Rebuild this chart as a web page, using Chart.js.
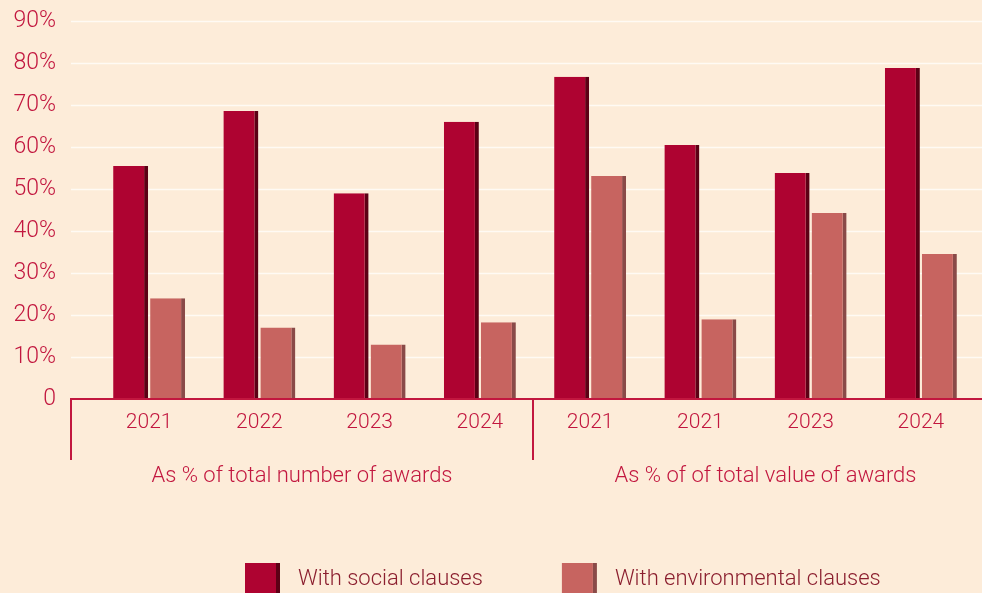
<!DOCTYPE html>
<html>
<head>
<meta charset="utf-8">
<title>Awards with social and environmental clauses</title>
<script src="https://cdn.jsdelivr.net/npm/chart.js@4.4.0/dist/chart.umd.min.js"></script>
<style>
  html, body { margin: 0; padding: 0; background: #fdecd9; overflow: hidden; }
  #wrap { width: 982px; height: 600px; }
</style>
</head>
<body>
<div id="wrap"><canvas id="awardsChart" width="982" height="600"></canvas></div>
<script>
// categories and values
const years = ['2021', '2022', '2023', '2024', '2021', '2021', '2023', '2024'];
const groupLabels = ['As % of total number of awards', 'As % of of total value of awards'];
const seriesNames = ['With social clauses', 'With environmental clauses'];
const socialClauses = [55.5, 68.6, 49, 66, 76.7, 60.5, 53.8, 78.8];
const environmentalClauses = [24, 17, 13, 18.3, 53.1, 19, 44.3, 34.5];
const yTicks = [0, 10, 20, 30, 40, 50, 60, 70, 80, 90];

const red = '#ae0331';
const redEdge = '#5c0015';
const rose = '#c76460';
const roseEdge = '#8a4a48';
const crimson = '#c2173f';
const FONT = 'Roboto';

// white grid lines run past the plot area, from the axis stub to the right edge
const gridLines = {
    id: 'gridLines',
    beforeDatasetsDraw(chart) {
        const ctx = chart.ctx;
        const y = chart.scales.y;
        ctx.save();
        ctx.strokeStyle = '#fffaf4';
        ctx.lineWidth = 1.6;
        yTicks.forEach(function (v) {
            if (v === 0) return;
            const py = Math.round(y.getPixelForValue(v)) + 0.5;
            ctx.beginPath();
            ctx.moveTo(71, py);
            ctx.lineTo(chart.width, py);
            ctx.stroke();
        });
        ctx.restore();
    }
};

// baseline, group separators, group titles and the legend
const decorations = {
    id: 'decorations',
    afterDraw(chart) {
        const ctx = chart.ctx;
        const x = chart.scales.x;
        const y0 = chart.scales.y.getPixelForValue(0);
        const sep = (x.getPixelForValue(3) + x.getPixelForValue(4)) / 2 - 2;
        ctx.save();
        ctx.strokeStyle = crimson;
        ctx.lineWidth = 2;
        ctx.beginPath();
        ctx.moveTo(71, y0);
        ctx.lineTo(chart.width, y0);
        ctx.moveTo(71, y0 - 1);
        ctx.lineTo(71, y0 + 61);
        ctx.moveTo(sep, y0 - 1);
        ctx.lineTo(sep, y0 + 61);
        ctx.stroke();

        ctx.fillStyle = crimson;
        ctx.font = '300 22px ' + FONT;
        ctx.textAlign = 'center';
        ctx.textBaseline = 'middle';
        ctx.fillText(groupLabels[0], (71 + sep) / 2, y0 + 77);
        ctx.fillText(groupLabels[1], (sep + chart.width) / 2 + 8, y0 + 77);

        // legend
        const fills = [[red, redEdge], [rose, roseEdge]];
        let lx = 245;
        const top = 563;
        ctx.textAlign = 'left';
        seriesNames.forEach(function (name, i) {
            ctx.fillStyle = fills[i][0];
            ctx.fillRect(lx, top, 31, 35);
            ctx.fillStyle = fills[i][1];
            ctx.fillRect(lx + 31, top, 4, 35);
            ctx.fillStyle = '#8b1e2e';
            ctx.fillText(name, lx + 53, 579);
            lx += 53 + ctx.measureText(name).width + 79;
        });
        ctx.restore();
    }
};

const ctx = document.getElementById('awardsChart').getContext('2d');

const awardsChart = new Chart(ctx, {
    type: 'bar',
    data: {
        labels: years,
        datasets: [{
            label: seriesNames[0],
            data: socialClauses,
            backgroundColor: red,
            borderColor: redEdge,
            borderWidth: { top: 0, right: 4, bottom: 0, left: 0 },
            borderSkipped: false,
            categoryPercentage: 0.671,
            barPercentage: 0.946
        }, {
            label: seriesNames[1],
            data: environmentalClauses,
            backgroundColor: rose,
            borderColor: roseEdge,
            borderWidth: { top: 0, right: 4, bottom: 0, left: 0 },
            borderSkipped: false,
            categoryPercentage: 0.671,
            barPercentage: 0.946
        }]
    },
    options: {
        responsive: false,
        animation: false,
        layout: { padding: { top: 21, right: 6, bottom: 161, left: 0 } },
        plugins: {
            legend: { display: false },
            tooltip: { enabled: false }
        },
        scales: {
            x: {
                grid: { display: false },
                border: { display: false },
                ticks: {
                    color: crimson,
                    padding: 3,
                    font: { family: FONT, size: 21, weight: 300 }
                },
                afterFit: function (scale) { scale.height = 40; }
            },
            y: {
                min: 0,
                max: 90,
                // invisible tick marks push the labels left without padding the top
                grid: {
                    display: true,
                    drawOnChartArea: false,
                    drawTicks: true,
                    tickLength: 31,
                    color: 'rgba(0,0,0,0)'
                },
                border: { display: false },
                afterBuildTicks: function (scale) {
                    scale.ticks = yTicks.map(function (v) { return { value: v }; });
                },
                ticks: {
                    color: crimson,
                    padding: 7,
                    font: { family: FONT, size: 23, weight: 300 },
                    callback: function (v) { return v === 0 ? '0' : v + '%'; }
                },
                afterFit: function (scale) { scale.width = 94; }
            }
        }
    },
    plugins: [gridLines, decorations]
});
</script>
</body>
</html>
